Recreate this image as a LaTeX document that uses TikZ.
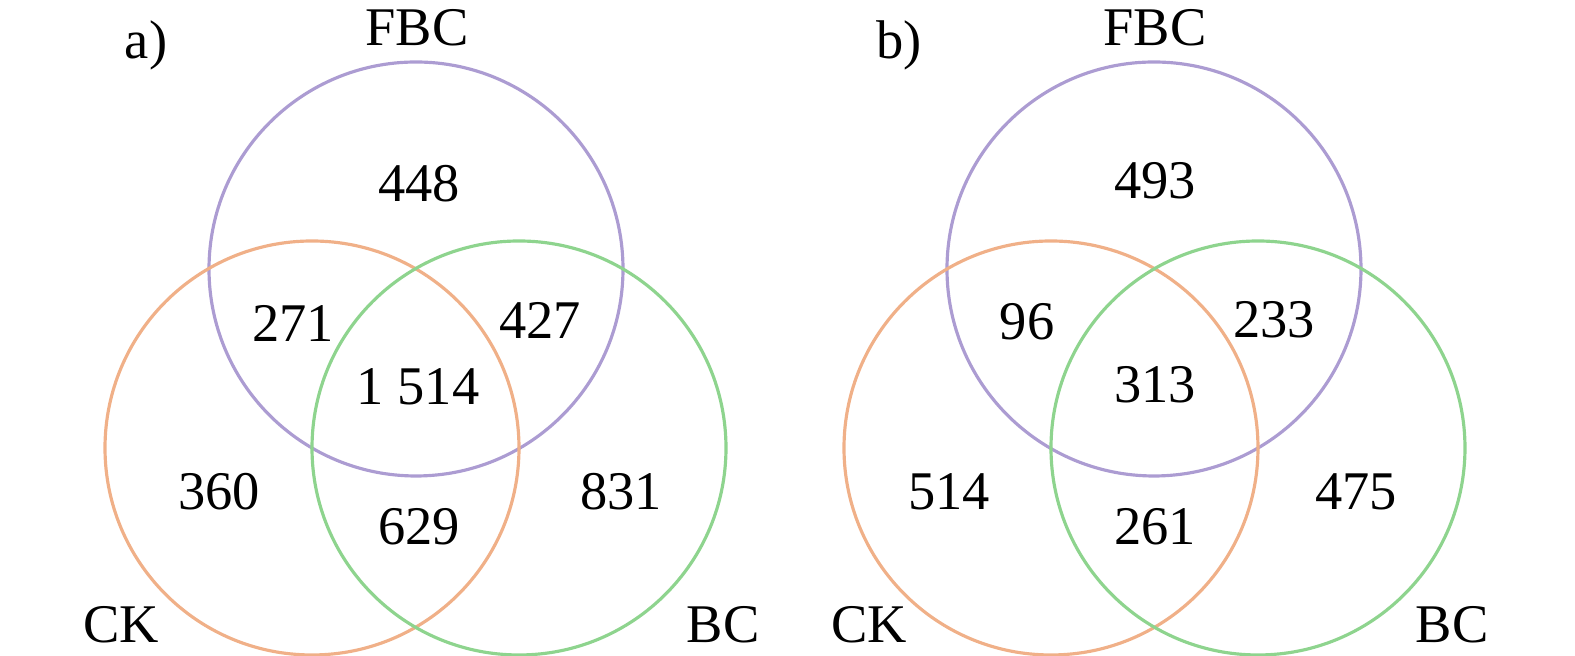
\documentclass[tikz,border=0pt]{standalone}
\usepackage{fontspec}
\setmainfont{Liberation Serif}
\definecolor{fbccol}{RGB}{172,156,210}
\definecolor{ckcol}{RGB}{240,176,136}
\definecolor{bccol}{RGB}{142,212,142}
\begin{document}
\begin{tikzpicture}[scale=1, font=\fontsize{15.5}{18}\selectfont]
 \useasboundingbox (0,0) rectangle (15.75,6.56);
 \tikzset{set/.style={circle, line width=0.9pt, minimum size=4.14cm, inner sep=0pt}}
 \begin{scope}
        \node[set, draw=fbccol] (A-1) at (4.16,3.87) {};
        \node[set, draw=ckcol] (A-2) at (3.12,2.08) {};
        \node[set, draw=bccol] (A-3) at (5.19,2.08) {};
        \node[ inner sep=1.5pt] (A-t) at (4.17,6.28) {FBC};
        \node[ inner sep=1.5pt] (A-l) at (1.21,0.31) {CK};
        \node[ inner sep=1.5pt] (A-r) at (7.23,0.31) {BC};
        \node[ inner sep=1.5pt] (A-p) at (1.46,6.11) {a)};
        \node[ inner sep=1.5pt] (A-n1) at (4.19,4.72) {448};
        \node[ inner sep=1.5pt] (A-n2) at (2.93,3.33) {271};
        \node[ inner sep=1.5pt] (A-n3) at (5.40,3.36) {427};
        \node[ inner sep=1.5pt] (A-n4) at (4.18,2.69) {1~514};
        \node[ inner sep=1.5pt] (A-n5) at (2.19,1.64) {360};
        \node[ inner sep=1.5pt] (A-n6) at (4.19,1.29) {629};
        \node[ inner sep=1.5pt] (A-n7) at (6.21,1.64) {831};
    \end{scope}
 \begin{scope}
        \node[set, draw=fbccol] (B-1) at (11.54,3.87) {};
        \node[set, draw=ckcol] (B-2) at (10.51,2.08) {};
        \node[set, draw=bccol] (B-3) at (12.58,2.08) {};
        \node[ inner sep=1.5pt] (B-t) at (11.55,6.28) {FBC};
        \node[ inner sep=1.5pt] (B-l) at (8.69,0.31) {CK};
        \node[ inner sep=1.5pt] (B-r) at (14.52,0.31) {BC};
        \node[ inner sep=1.5pt] (B-p) at (8.99,6.11) {b)};
        \node[ inner sep=1.5pt] (B-n1) at (11.55,4.75) {493};
        \node[ inner sep=1.5pt] (B-n2) at (10.27,3.34) {96};
        \node[ inner sep=1.5pt] (B-n3) at (12.74,3.36) {233};
        \node[ inner sep=1.5pt] (B-n4) at (11.55,2.71) {313};
        \node[ inner sep=1.5pt] (B-n5) at (9.49,1.64) {514};
        \node[ inner sep=1.5pt] (B-n6) at (11.55,1.29) {261};
        \node[ inner sep=1.5pt] (B-n7) at (13.56,1.64) {475};
    \end{scope}
\end{tikzpicture}
\end{document}
